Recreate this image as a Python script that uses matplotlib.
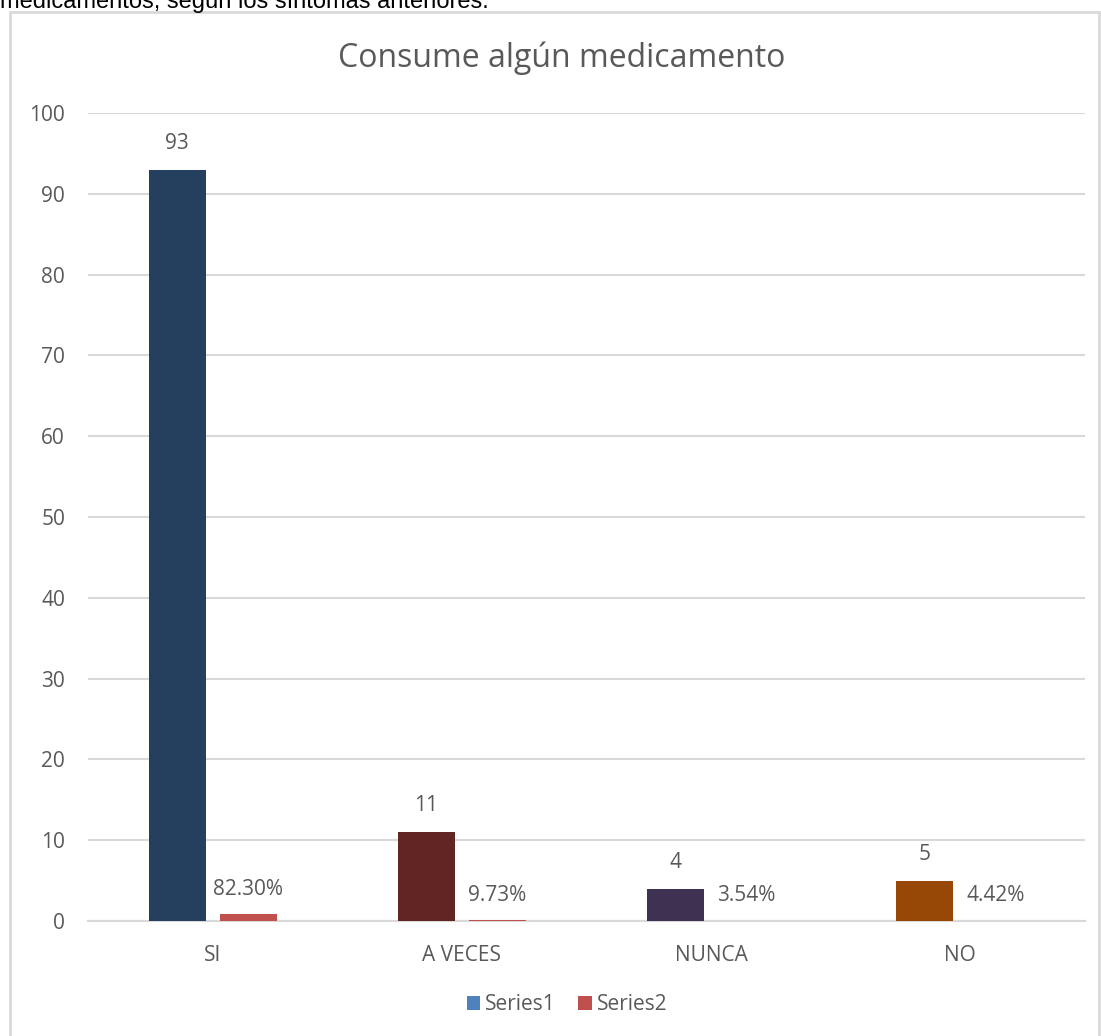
import matplotlib
matplotlib.use("Agg")
import matplotlib.pyplot as plt
from matplotlib.patches import Rectangle, Patch

categories = ["SI", "A VECES", "NUNCA", "NO"]
series1 = [93, 11, 4, 5]
series2 = [0.823, 0.0973, 0.0354, 0.0442]
series1_colors = ["#253F5E", "#632523", "#3F3151", "#974806"]
series2_color = "#C0504D"
legend_colors = ["#4F81BD", "#C0504D"]
yticks = [0, 10, 20, 30, 40, 50, 60, 70, 80, 90, 100]

W, H = 1101, 1036
fig = plt.figure(figsize=(W / 100, H / 100), dpi=100)
fig.patch.set_facecolor("white")

# caption line from the surrounding document, partly cut at the top
fig.text(0.0, 1 - 8 / H, "medicamentos, según los síntomas anteriores.",
         family="Liberation Sans", fontsize=17, color="black",
         ha="left", va="baseline")

# chart frame
fig.patches.append(Rectangle((10 / W, -0.01), (W - 12) / W, 1 - 12 / H + 0.01,
                             transform=fig.transFigure, fill=False,
                             edgecolor="#D9D9D9", linewidth=2))

ax = fig.add_axes([88 / W, (H - 921) / H, (1085 - 88) / W, (921 - 113) / H])
font = "Open Sans"
grey = "#595959"
fs = 15

x = list(range(len(categories)))
bw = 0.229
off = 0.1425
b1 = ax.bar([i - off for i in x], series1, bw, color=series1_colors, zorder=3)
b2 = ax.bar([i + off for i in x], series2, bw, color=series2_color, zorder=3)

for rect, v in zip(b1, series1):
    ax.annotate(f"{v}", (rect.get_x() + rect.get_width() / 2, v),
                xytext=(0, 19), textcoords="offset points",
                ha="center", va="center", family=font, fontsize=fs, color=grey)
for rect, v in zip(b2, series2):
    ax.annotate(f"{v * 100:.2f}%", (rect.get_x() + rect.get_width() / 2, v),
                xytext=(0, 18), textcoords="offset points",
                ha="center", va="center", family=font, fontsize=fs, color=grey)

ax.set_xlim(-0.5, 3.5)
ax.set_ylim(0, 100)
ax.set_yticks(yticks)
ax.set_xticks(x)
ax.set_xticklabels(categories)
ax.yaxis.grid(True, color="#D9D9D9", linewidth=1.5, zorder=0)
ax.set_axisbelow(True)
for s in ["top", "right", "left"]:
    ax.spines[s].set_visible(False)
ax.spines["bottom"].set_color("#D9D9D9")
ax.spines["bottom"].set_linewidth(1.5)
ax.tick_params(axis="both", length=0, labelcolor=grey, labelsize=fs)
ax.tick_params(axis="y", pad=16.5)
ax.tick_params(axis="x", pad=17)
for lab in ax.get_xticklabels() + ax.get_yticklabels():
    lab.set_family(font)

fig.text(562 / W, 1 - 58 / H, "Consume algún medicamento", ha="center",
         va="center", family=font, fontsize=23, color=grey)

handles = [Patch(facecolor=c) for c in legend_colors]
fig.legend(handles, ["Series1", "Series2"], loc="center",
           bbox_to_anchor=(567 / W, 1 - 1005 / H), ncol=2, frameon=False,
           prop={"family": font, "size": fs}, labelcolor=grey,
           handlelength=0.65, handleheight=0.65, handletextpad=0.25,
           columnspacing=1.05)

fig.savefig("out.png", dpi=100)
